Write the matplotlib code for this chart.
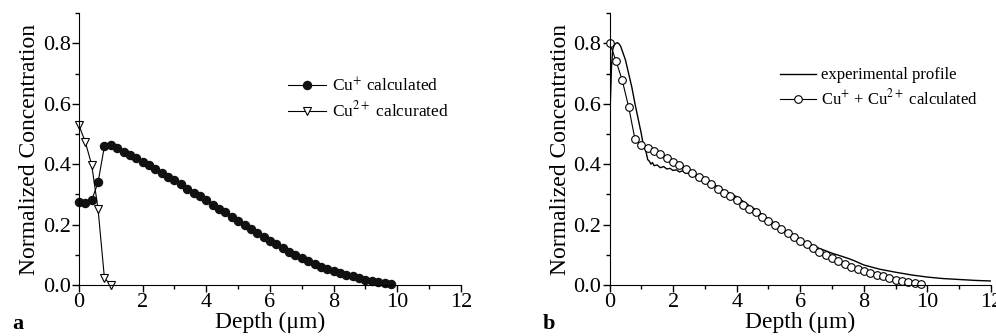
import matplotlib
matplotlib.use("Agg")
import matplotlib.pyplot as plt
from matplotlib.ticker import MultipleLocator

plt.rcParams['font.family'] = ['Liberation Serif', 'DejaVu Serif']
plt.rcParams['mathtext.fontset'] = 'stix'

# calculated profiles, every 0.2 um
depth_calc = [round(0.2 * i, 1) for i in range(50)]
cu1 = [0.274, 0.270, 0.280, 0.340, 0.460, 0.463, 0.454, 0.441, 0.430, 0.419,
       0.407, 0.397, 0.385, 0.371, 0.359, 0.346, 0.334, 0.319, 0.306, 0.294,
       0.280, 0.266, 0.253, 0.240, 0.225, 0.212, 0.198, 0.185, 0.171, 0.158,
       0.147, 0.134, 0.122, 0.110, 0.100, 0.088, 0.078, 0.070, 0.061, 0.053,
       0.046, 0.040, 0.034, 0.028, 0.022, 0.017, 0.012, 0.009, 0.006, 0.003]
depth_cu2 = [0.0, 0.2, 0.4, 0.6, 0.8, 1.0]
cu2 = [0.528, 0.473, 0.397, 0.250, 0.022, 0.001]
cu_total = [0.802, 0.743, 0.677, 0.590, 0.482, 0.463, 0.454, 0.442, 0.432, 0.420,
            0.408, 0.397, 0.385, 0.371, 0.359, 0.346, 0.334, 0.319, 0.306, 0.294,
            0.280, 0.266, 0.253, 0.240, 0.225, 0.212, 0.198, 0.185, 0.171, 0.158,
            0.147, 0.134, 0.122, 0.110, 0.100, 0.088, 0.078, 0.070, 0.061, 0.053,
            0.046, 0.040, 0.034, 0.028, 0.022, 0.017, 0.012, 0.009, 0.006, 0.003]

# experimental profile
depth_exp = [0.0, 0.03, 0.06, 0.1, 0.15, 0.2, 0.25, 0.3, 0.35, 0.4, 0.5, 0.6, 0.7,
             0.8, 0.9, 1.0, 1.05, 1.1, 1.15, 1.2, 1.25, 1.3, 1.35, 1.4, 1.5, 1.6,
             1.7, 1.8, 1.9, 2.0, 2.1, 2.2, 2.3, 2.4, 2.5, 2.6, 2.7, 2.8, 3.0, 3.2,
             3.4, 3.6, 3.8, 4.0, 4.2, 4.4, 4.6, 4.8, 5.0, 5.2, 5.4, 5.6, 5.8, 6.0,
             6.3, 6.6, 7.0, 7.3, 7.5, 7.7, 8.0, 8.5, 9.0, 9.5, 10.0, 10.5, 11.0,
             11.5, 12.0]
conc_exp = [0.50, 0.62, 0.72, 0.78, 0.795, 0.80, 0.802, 0.798, 0.79, 0.775, 0.745,
            0.70, 0.655, 0.60, 0.55, 0.50, 0.47, 0.455, 0.44, 0.415, 0.41, 0.40,
            0.405, 0.395, 0.397, 0.388, 0.392, 0.384, 0.386, 0.379, 0.381, 0.374,
            0.378, 0.369, 0.372, 0.366, 0.364, 0.358, 0.349, 0.338, 0.325, 0.313,
            0.302, 0.292, 0.277, 0.262, 0.249, 0.233, 0.218, 0.203, 0.189, 0.175,
            0.162, 0.150, 0.135, 0.121, 0.105, 0.095, 0.088, 0.080, 0.066, 0.052,
            0.042, 0.033, 0.026, 0.021, 0.018, 0.015, 0.013]

fig = plt.figure(figsize=(9.96, 3.36), dpi=100)
ax_a = fig.add_axes([0.0793, 0.152, 0.3835, 0.809])
ax_b = fig.add_axes([0.612, 0.152, 0.383, 0.809])


def style_axes(ax):
    ax.set_xlim(0, 12)
    ax.set_ylim(0, 0.9)
    ax.xaxis.set_major_locator(MultipleLocator(2))
    ax.xaxis.set_minor_locator(MultipleLocator(1))
    ax.yaxis.set_minor_locator(MultipleLocator(0.1))
    ax.set_yticks([0.0, 0.2, 0.4, 0.6, 0.8])
    ax.set_yticklabels(['0.0', '0.2', '0.4', '0.6', '0.8'])
    ax.spines['top'].set_visible(False)
    ax.spines['right'].set_visible(False)
    ax.tick_params(which='major', direction='out', length=5, width=1, labelsize=16, pad=1)
    ax.tick_params(which='minor', direction='out', length=3, width=1)
    ax.set_ylabel('Normalized Concentration', fontsize=17, labelpad=2)
    ax.set_xlabel('Depth (μm)', fontsize=17, labelpad=0)


style_axes(ax_a)
ax_a.plot(depth_calc, cu1, '-', color='black', lw=0.8, marker='o', ms=5.8,
          mfc='#111111', mec='#111111', label='Cu$^{+}$ calculated', clip_on=False)
ax_a.plot(depth_cu2, cu2, '-', color='black', lw=0.8, marker='v', ms=6,
          mfc='white', mec='black', mew=0.8, label='Cu$^{2+}$ calcurated', clip_on=False)
ax_a.legend(loc='upper left', bbox_to_anchor=(0.548, 0.765), frameon=False, fontsize=12.5,
            handlelength=2.2, handletextpad=0.3, labelspacing=0.3, borderpad=0,
            borderaxespad=0)

style_axes(ax_b)
ax_b.plot(depth_exp, conc_exp, '-', color='black', lw=1.0, label='experimental profile')
ax_b.plot(depth_calc, cu_total, '-', color='black', lw=0.8, marker='o', ms=5.5,
          mfc='white', mec='black', mew=0.8, label='Cu$^{+}$ + Cu$^{2+}$ calculated',
          clip_on=False)
ax_b.legend(loc='upper left', bbox_to_anchor=(0.446, 0.80), frameon=False, fontsize=12,
            handlelength=2.2, handletextpad=0.3, labelspacing=0.3, borderpad=0,
            borderaxespad=0)

fig.text(0.012, 0.02, 'a', fontsize=16, fontweight='bold')
fig.text(0.545, 0.02, 'b', fontsize=16, fontweight='bold')

fig.savefig('out.png', dpi=100)
